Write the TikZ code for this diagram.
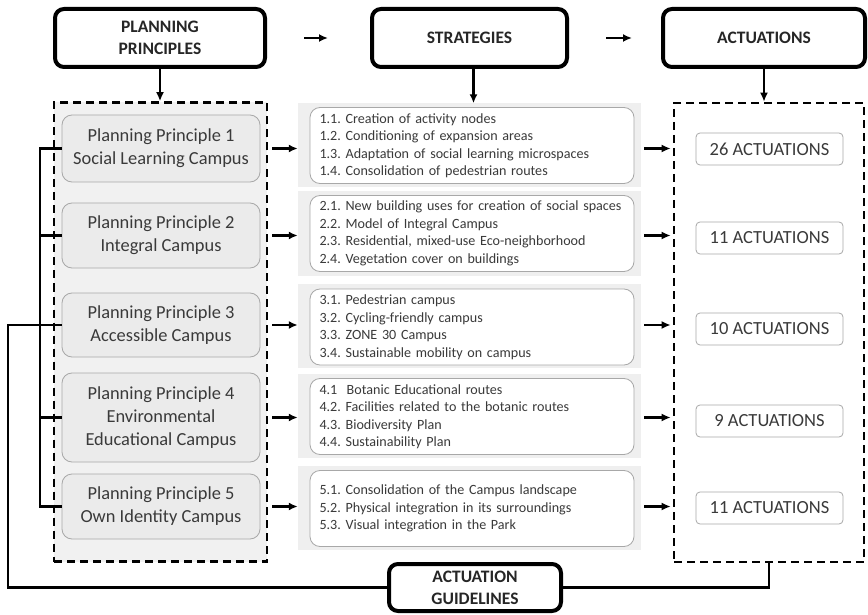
\documentclass[tikz,border=0pt]{standalone}
\usepackage{fontspec}
\setmainfont{Carlito}
\usetikzlibrary{arrows.meta}
\definecolor{txt}{HTML}{3A3A3A}
\definecolor{boxline}{HTML}{A8A8A8}
\definecolor{panel}{HTML}{EFEFEF}
\definecolor{ppfill}{HTML}{EBEBEB}
\definecolor{regfill}{HTML}{F1F1F1}
\frenchspacing
\begin{document}
\begin{tikzpicture}[x=1pt,y=-1pt]
\tikzset{
  title/.style={draw=black, line width=4pt, rounded corners=9pt, fill=white,
    font=\bfseries\fontsize{17.5}{22}\selectfont, text=black!85, align=center},
  region/.style={draw=black, line width=2.6pt, dash pattern=on 8pt off 5pt},
  ppbox/.style={draw=boxline, line width=0.8pt, rounded corners=10pt, fill=ppfill,
    minimum width=198pt, font=\fontsize{18.4}{23}\selectfont, text=txt, align=center},
  stpanel/.style={fill=panel, minimum width=343pt, minimum height=84pt, inner sep=0pt},
  stbox/.style={draw=boxline, line width=0.8pt, rounded corners=10pt, fill=white,
    text width=305pt, inner xsep=9.5pt, minimum height=76pt, align=left,
    font=\fontsize{14.1}{17.5}\selectfont, text=txt},
  actbox/.style={draw=boxline, line width=0.8pt, rounded corners=4pt, fill=white,
    minimum width=147pt, minimum height=32pt, font=\fontsize{18.5}{20}\selectfont, text=txt},
  conn/.style={draw=black, line width=2.2pt},
  arr/.style={conn, -{Latex[length=9pt,width=8pt]}}
}
\useasboundingbox (0,0) rectangle (868,615);

% column headings
\node[title, minimum width=210pt, minimum height=58pt] (tpp) at (160,38) {PLANNING\\PRINCIPLES};
\node[title, minimum width=195pt, minimum height=58pt] (tst) at (469.5,38) {STRATEGIES};
\node[title, minimum width=202pt, minimum height=58pt] (tact) at (764,38) {ACTUATIONS};

% dashed groups
\node[region, fill=regfill, minimum width=213pt, minimum height=459pt] (ppreg) at (160.5,332) {};
\node[region, fill=white, minimum width=190pt, minimum height=459pt] (actreg) at (769,332.5) {};

% planning principles
\node[ppbox, minimum height=67pt] (pp1) at (161,148.5) {Planning Principle 1\\Social Learning Campus};
\node[ppbox, minimum height=65pt] (pp2) at (161,235.5) {Planning Principle 2\\Integral Campus};
\node[ppbox, minimum height=64pt] (pp3) at (161,325) {Planning Principle 3\\Accessible Campus};
\node[ppbox, minimum height=89pt] (pp4) at (161,417.5) {Planning Principle 4\\Environmental\\Educational Campus};
\node[ppbox, minimum height=65pt] (pp5) at (161,506.5) {Planning Principle 5\\Own Identity Campus};

% strategy panels
\node[stpanel] (sp1) at (469.5,145.5) {};
\node[stpanel] (sp2) at (469.5,233.5) {};
\node[stpanel] (sp3) at (469.5,326) {};
\node[stpanel] (sp4) at (469.5,415.5) {};
\node[stpanel] (sp5) at (469.5,507.5) {};
\node[stbox] (sb1) at (472,145.5) {1.1. Creation of activity nodes\\1.2. Conditioning of expansion areas\\1.3. Adaptation of social learning microspaces\\1.4. Consolidation of pedestrian routes};
\node[stbox] (sb2) at (472,233.5) {2.1. New building uses for creation of social spaces\\2.2. Model of Integral Campus\\2.3. Residential, mixed-use Eco-neighborhood\\2.4. Vegetation cover on buildings};
\node[stbox] (sb3) at (472,327) {3.1. Pedestrian campus\\3.2. Cycling-friendly campus\\3.3. ZONE 30 Campus\\3.4. Sustainable mobility on campus};
\node[stbox] (sb4) at (472,416.5) {4.1\ \ Botanic Educational routes\\4.2. Facilities related to the botanic routes\\4.3. Biodiversity Plan\\4.4. Sustainability Plan};
\node[stbox] (sb5) at (472,508.5) {5.1. Consolidation of the Campus landscape\\5.2. Physical integration in its surroundings\\5.3. Visual integration in the Park};

% actuation counts
\node[actbox] (a1) at (769.5,149) {26 ACTUATIONS};
\node[actbox] (a2) at (769.5,238) {11 ACTUATIONS};
\node[actbox] (a3) at (769.5,329) {10 ACTUATIONS};
\node[actbox] (a4) at (769.5,421) {9 ACTUATIONS};
\node[actbox] (a5) at (769.5,508) {11 ACTUATIONS};

% guidelines box
\node[title, minimum width=172pt, minimum height=47pt] (guide) at (475,587.5) {ACTUATION\\GUIDELINES};

% heading arrows
\draw[arr, shorten <=37pt, shorten >=42pt] (tpp.east) -- (tst.west);
\draw[arr, shorten <=37pt, shorten >=29pt] (tst.east) -- (tact.west);
\draw[arr] (tpp.south) -- (tpp.south |- ppreg.north);
\draw[arr] ([xshift=4pt]tst.south) -- ([xshift=4pt]tst.south |- sp1.north);
\draw[arr] (tact.south) -- (tact.south |- actreg.north);

% row arrows
\foreach \i in {1,...,5}{
  \draw[arr, shorten <=4pt] (ppreg.east |- pp\i) -- (sp\i.west |- pp\i);
  \draw[arr, shorten <=3pt, shorten >=2pt] (sp\i.east |- pp\i) -- (actreg.west |- pp\i);
}

% bracket joining the principles
\coordinate (bx) at (40,0);
\coordinate (lx) at (8,0);
\draw[conn] (pp1.west) -- (pp1.west -| bx) -- (pp5.west -| bx) -- (pp5.west);
\draw[conn] (pp2.west -| bx) -- (pp2.west);
\draw[conn] (pp4.west -| bx) -- (pp4.west);

% feedback loop through the guidelines
\draw[conn] (pp3.west) -- (pp3.west -| lx) |- (guide.west);
\draw[conn] (guide.east) -| (actreg.south);
\end{tikzpicture}
\end{document}
